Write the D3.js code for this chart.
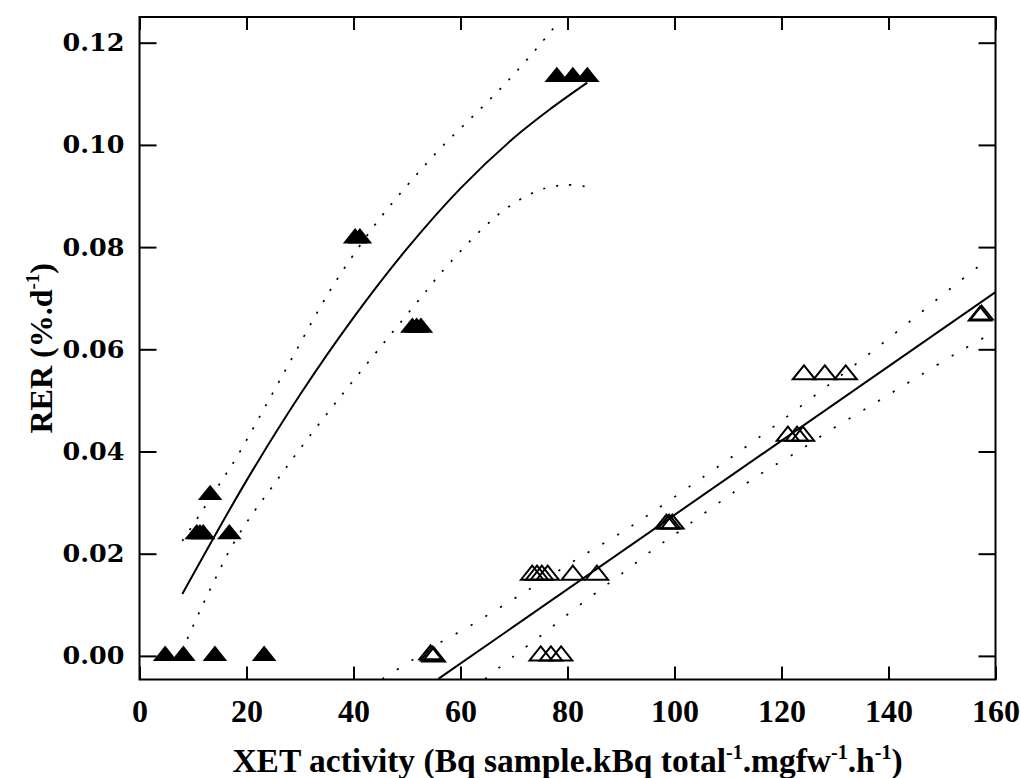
<!DOCTYPE html>
<html>
<head>
<meta charset="utf-8">
<script src="https://cdn.jsdelivr.net/npm/d3@7"></script>
<style>
html,body{margin:0;padding:0;background:#fff;}
svg{display:block;}
</style>
</head>
<body>
<svg id="chart" width="1021" height="778"></svg>
<script>
// ---- data ----
const xTicks = [0, 20, 40, 60, 80, 100, 120, 140, 160];
const yTicks = [0, 0.02, 0.04, 0.06, 0.08, 0.10, 0.12];

// filled triangles
const filledX = [4.8, 8.2, 14.1, 23.3, 10.7, 11.3, 11.9, 16.8, 13.2, 40.3, 41.2, 51.0, 51.8, 52.6, 78.0, 81.0, 83.7];
const filledY = [0, 0, 0, 0, 0.0238, 0.0238, 0.0238, 0.0238, 0.0315, 0.0817, 0.0817, 0.0642, 0.0642, 0.0642, 0.1133, 0.1133, 0.1133];

// open triangles
const openX = [54.4, 54.7, 55.0, 75.0, 76.9, 78.8, 73.4, 74.3, 75.2, 76.3, 81.0, 85.5, 98.5, 99.0, 99.6, 121.2, 122.9, 124.0, 124.2, 128.1, 132.0, 157.1, 157.4];
const openY = [0.0002, 0, -0.0002, 0, 0, 0, 0.0158, 0.0158, 0.0158, 0.0158, 0.0158, 0.0158, 0.0258, 0.0258, 0.0258, 0.043, 0.043, 0.043, 0.055, 0.055, 0.055, 0.0665, 0.0667];

// fitted curve (filled) and its bands
const fit1X = [8, 20, 30, 40, 50, 60, 70, 77, 83.7];
const fit1Y = [0.0121, 0.0343, 0.0511, 0.0662, 0.0797, 0.0915, 0.1014, 0.1072, 0.1122];
const up1X = [8, 11.3, 15.3, 18, 27, 35.5, 41, 45.6, 50.8, 56.6, 63, 69, 74.5, 78.3];
const up1Y = [0.0225, 0.0277, 0.0342, 0.0386, 0.0554, 0.0713, 0.080, 0.0865, 0.093, 0.0997, 0.1063, 0.1127, 0.1192, 0.1240];
const lo1X = [8.0, 8.8, 11.6, 14.6, 16.7, 19.2, 22, 25.1, 29.7, 38, 46.1, 52.9, 56.3, 64.1, 69, 74.3, 77.1, 79.8, 83.7];
const lo1Y = [0.001, 0.003, 0.0095, 0.016, 0.0204, 0.0248, 0.0291, 0.0335, 0.0401, 0.0513, 0.0618, 0.0705, 0.0749, 0.0836, 0.0879, 0.091, 0.0918, 0.0922, 0.0918];

// fitted line (open) and its bands
const fit2X = [55.85, 160];
const fit2Y = [-0.0045, 0.0712];
const up2X = [45.4, 50.7, 56.0, 61.5, 66.8, 72.2, 82.8, 88.3, 93.7, 107.0, 112.4, 120.5, 128.4, 136.5, 144.4, 152.2, 158.0];
const up2Y = [-0.0045, -0.001, 0.0025, 0.0057, 0.0091, 0.0126, 0.0196, 0.023, 0.0266, 0.0362, 0.0402, 0.0464, 0.0527, 0.0592, 0.0658, 0.0724, 0.0772];
const lo2X = [64.6, 69.9, 75.2, 80.5, 85.9, 91.3, 96.5, 99.3, 115.2, 123.5, 128.7, 136.9, 145, 153, 158.4];
const lo2Y = [-0.0045, -0.0001, 0.0041, 0.0085, 0.0128, 0.017, 0.0212, 0.0232, 0.035, 0.0403, 0.0439, 0.0491, 0.0543, 0.0594, 0.0626];

// ---- layout ----
const L = 139.5, R = 995.5, T = 17, B = 679.5;
const svg = d3.select("#chart");
const x = d3.scaleLinear().domain([0, 160]).range([L, R]);
const y = d3.scaleLinear().domain([-0.00462, 0.12503]).range([B, T]);

const zip = (xs, ys) => xs.map((v, i) => [v, ys[i]]);
const SERIF = "'Liberation Serif', 'Times New Roman', Times, serif";

svg.append("defs").append("clipPath").attr("id", "clip")
  .append("rect").attr("x", L).attr("y", T).attr("width", R - L).attr("height", B - T);

const plot = svg.append("g").attr("clip-path", "url(#clip)");
const line = d3.line().x(d => x(d[0])).y(d => y(d[1])).curve(d3.curveCatmullRom.alpha(0.5));

// bands
[[up1X, up1Y], [lo1X, lo1Y]].forEach(([xs, ys]) => {
  plot.append("path").datum(zip(xs, ys)).attr("d", line)
    .attr("fill", "none").attr("stroke", "#000").attr("stroke-width", 1.7)
    .attr("stroke-dasharray", "2.2,11");
});
[[up2X, up2Y], [lo2X, lo2Y]].forEach(([xs, ys]) => {
  plot.append("path").datum(zip(xs, ys)).attr("d", line)
    .attr("fill", "none").attr("stroke", "#000").attr("stroke-width", 1.7)
    .attr("stroke-dasharray", "2.2,15");
});
// fits
plot.append("path").datum(zip(fit1X, fit1Y)).attr("d", line)
  .attr("fill", "none").attr("stroke", "#000").attr("stroke-width", 2);
plot.append("path").datum(zip(fit2X, fit2Y)).attr("d", d3.line().x(d => x(d[0])).y(d => y(d[1])))
  .attr("fill", "none").attr("stroke", "#000").attr("stroke-width", 2);

// triangle markers
const tri = (hw, up, down) => `M0,${-up}L${hw},${down}L${-hw},${down}Z`;
plot.append("g").selectAll("path").data(zip(openX, openY)).join("path")
  .attr("transform", d => `translate(${x(d[0])},${y(d[1])})`)
  .attr("d", tri(11.2, 9.5, 4.5))
  .attr("fill", "none").attr("stroke", "#000").attr("stroke-width", 2).attr("stroke-linejoin", "miter");
plot.append("g").selectAll("path").data(zip(filledX, filledY)).join("path")
  .attr("transform", d => `translate(${x(d[0])},${y(d[1])})`)
  .attr("d", tri(12.3, 10.3, 5))
  .attr("fill", "#000").attr("stroke", "none");

// axes
const axB = svg.append("g").attr("transform", `translate(0,${B})`)
  .call(d3.axisBottom(x).tickValues(xTicks).tickSize(-13).tickPadding(0).tickFormat(d3.format("d")));
const axT = svg.append("g").attr("transform", `translate(0,${T})`)
  .call(d3.axisTop(x).tickValues(xTicks).tickSize(-13).tickFormat(""));
const axL = svg.append("g").attr("transform", `translate(${L},0)`)
  .call(d3.axisLeft(y).tickValues(yTicks).tickSize(-17).tickPadding(15).tickFormat(d3.format(".2f")));
const axR = svg.append("g").attr("transform", `translate(${R},0)`)
  .call(d3.axisRight(y).tickValues(yTicks).tickSize(-17).tickFormat(""));
[axB, axT, axL, axR].forEach(a => {
  a.select(".domain").remove();
  a.selectAll(".tick line").attr("stroke", "#000").attr("stroke-width", 2);
});
axB.attr("font-family", SERIF).attr("font-size", 32);
axB.selectAll("text").attr("y", 20).attr("dy", "0.71em")
  .attr("font-family", SERIF)
  .attr("font-weight", "bold").attr("font-size", 32).attr("fill", "#000");
axL.attr("font-family", "'DejaVu Serif', serif").attr("font-size", 25);
axL.selectAll("text")
  .attr("font-family", "'DejaVu Serif', serif")
  .attr("font-weight", "bold").attr("font-size", 25).attr("fill", "#000")
  .attr("textLength", 62).attr("lengthAdjust", "spacingAndGlyphs");

// frame
svg.append("rect").attr("x", L).attr("y", T).attr("width", R - L).attr("height", B - T)
  .attr("fill", "none").attr("stroke", "#000").attr("stroke-width", 2);

// titles
const xt = svg.append("text").attr("x", (L + R) / 2).attr("y", 772).attr("text-anchor", "middle")
  .attr("font-family", SERIF).attr("font-weight", "bold")
  .attr("font-size", 33.5).attr("fill", "#000");
xt.append("tspan").text("XET activity (Bq sample.kBq total");
xt.append("tspan").attr("font-size", 20).attr("dy", -13).text("-1");
xt.append("tspan").attr("dy", 13).text(".mgfw");
xt.append("tspan").attr("font-size", 20).attr("dy", -13).text("-1");
xt.append("tspan").attr("dy", 13).text(".h");
xt.append("tspan").attr("font-size", 20).attr("dy", -13).text("-1");
xt.append("tspan").attr("dy", 13).text(")");

const yt = svg.append("text").attr("transform", `translate(52,${(T + B) / 2}) rotate(-90)`)
  .attr("text-anchor", "middle")
  .attr("font-family", SERIF).attr("font-weight", "bold")
  .attr("font-size", 32).attr("fill", "#000");
yt.append("tspan").text("RER (%.d");
yt.append("tspan").attr("font-size", 19).attr("dy", -13).text("-1");
yt.append("tspan").attr("dy", 13).text(")");
</script>
</body>
</html>
